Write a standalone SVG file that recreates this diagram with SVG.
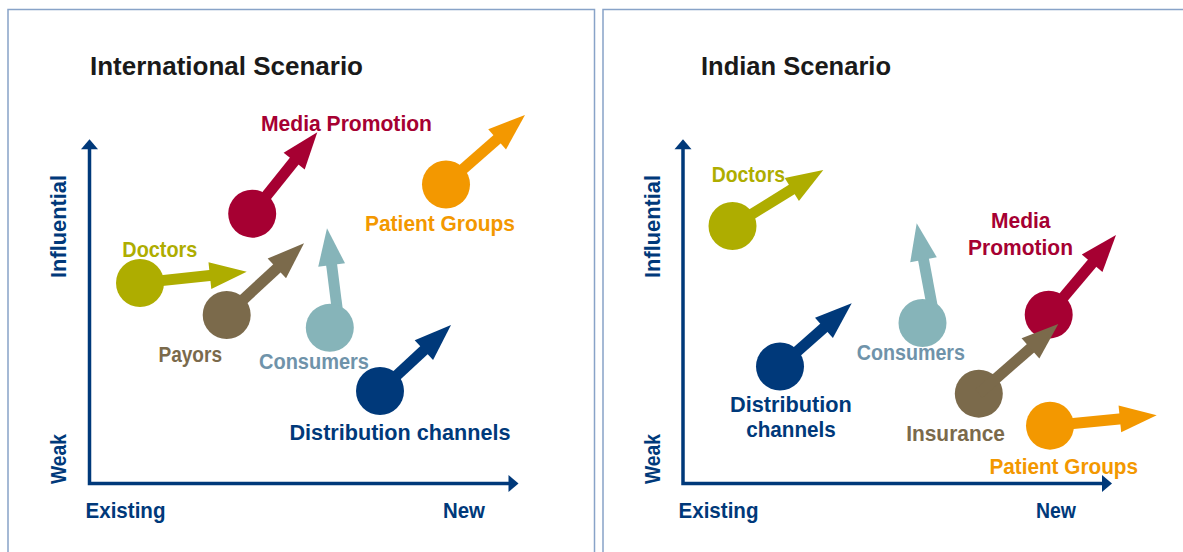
<svg xmlns="http://www.w3.org/2000/svg" xmlns:xlink="http://www.w3.org/1999/xlink" width="1183" height="552" viewBox="0 0 1183 552">
<style>
text{font-family:"Liberation Sans",Arial,sans-serif;font-weight:bold;font-size:22px}
.title{fill:#1a1a1a;font-size:25px}
.ax{fill:#00397a}
.navy{fill:#00397a}
.crim{fill:#a60032}
.orng{fill:#f39800}
.oliv{fill:#aead00}
.brwn{fill:#7b6a4b}
.teal{fill:#86b4b9}
.tlbl{fill:#6f93aa}
.frame{fill:none;stroke:#88a3c8;stroke-width:1.5}
.axl{stroke:#00397a;stroke-width:3.5;fill:none}
</style>
<defs>
<polygon id="head" points="0,0 -37,-13.5 -37,13.5"/>
<polygon id="axhead" points="0,0 -10,-8.5 -10,8.5"/>
</defs>
<rect x="0" y="0" width="1183" height="552" fill="#ffffff"/>
<g id="panel-left">
<rect class="frame" x="8" y="9.5" width="586.5" height="600"/>
<text class="title" x="90" y="75" textLength="273" lengthAdjust="spacingAndGlyphs">International Scenario</text>
<g id="axes-left">
<path class="axl" d="M89.5,148 V483.5 H510"/>
<use href="#axhead" class="ax" transform="translate(89.5,139.3) rotate(-90)"/>
<use href="#axhead" class="ax" transform="translate(518.5,483.5)"/>
<text class="ax" transform="translate(66,278) rotate(-90)" textLength="103" lengthAdjust="spacingAndGlyphs">Influential</text>
<text class="ax" transform="translate(66,484) rotate(-90)" textLength="50" lengthAdjust="spacingAndGlyphs">Weak</text>
<text class="ax" x="85.5" y="518" textLength="80" lengthAdjust="spacingAndGlyphs">Existing</text>
<text class="ax" x="443" y="518" textLength="42" lengthAdjust="spacingAndGlyphs">New</text>
</g>
</g>
<g id="panel-right">
<rect class="frame" x="603" y="9.5" width="600" height="600"/>
<text class="title" x="701" y="75" textLength="190" lengthAdjust="spacingAndGlyphs">Indian Scenario</text>
<g id="axes-right">
<path class="axl" d="M683,148 V483.5 H1103"/>
<use href="#axhead" class="ax" transform="translate(683,139.3) rotate(-90)"/>
<use href="#axhead" class="ax" transform="translate(1112,483.5)"/>
<text class="ax" transform="translate(660,278) rotate(-90)" textLength="103" lengthAdjust="spacingAndGlyphs">Influential</text>
<text class="ax" transform="translate(660,484) rotate(-90)" textLength="50" lengthAdjust="spacingAndGlyphs">Weak</text>
<text class="ax" x="678.5" y="518" textLength="80" lengthAdjust="spacingAndGlyphs">Existing</text>
<text class="ax" x="1036" y="518" textLength="40" lengthAdjust="spacingAndGlyphs">New</text>
</g>
</g>
<g id="connectors">
<g class="crim" transform="translate(317.3,132.3) rotate(-51.3)"><rect x="-104" y="-5.5" width="74" height="11"/><use href="#head"/></g>
<g class="orng" transform="translate(525,115) rotate(-41.1)"><rect x="-105" y="-5.5" width="75" height="11"/><use href="#head"/></g>
<g class="oliv" transform="translate(246.7,271.7) rotate(-6)"><rect x="-107" y="-5.5" width="77" height="11"/><use href="#head"/></g>
<g class="brwn" transform="translate(304,243.3) rotate(-42.8)"><rect x="-105" y="-5.5" width="75" height="11"/><use href="#head"/></g>
<g class="teal" transform="translate(327,228.3) rotate(-97.2)"><rect x="-87" y="-5.5" width="57" height="11"/><use href="#head"/></g>
<g class="navy" transform="translate(451,325) rotate(-42.9)"><rect x="-97" y="-5.5" width="67" height="11"/><use href="#head"/></g>
<g class="oliv" transform="translate(823.3,170) rotate(-31.7)"><rect x="-106.7" y="-5.5" width="76.7" height="11"/><use href="#head"/></g>
<g class="teal" transform="translate(916.7,223.3) rotate(-100.6)"><rect x="-88" y="-5.5" width="58" height="11"/><use href="#head"/></g>
<g class="crim" transform="translate(1116,235) rotate(-49.8)"><rect x="-104" y="-5.5" width="74" height="11"/><use href="#head"/></g>
<g class="navy" transform="translate(851.7,303.3) rotate(-41.4)"><rect x="-95.6" y="-5.5" width="65.6" height="11"/><use href="#head"/></g>
<g class="orng" transform="translate(1156.7,415.3) rotate(-5.57)"><rect x="-107" y="-5.5" width="77" height="11"/><use href="#head"/></g>
</g>
<g id="node-media-l"><circle class="crim" cx="252.2" cy="213.7" r="24"/><text class="crim" x="261" y="130.7" textLength="171" lengthAdjust="spacingAndGlyphs">Media Promotion</text></g>
<g id="node-patient-l"><circle class="orng" cx="446" cy="184.5" r="24"/><text class="orng" x="365" y="231" textLength="150" lengthAdjust="spacingAndGlyphs">Patient Groups</text></g>
<g id="node-doctors-l"><circle class="oliv" cx="140" cy="283" r="24"/><text class="oliv" x="122.3" y="256.7" textLength="75" lengthAdjust="spacingAndGlyphs">Doctors</text></g>
<g id="node-payors"><circle class="brwn" cx="226.7" cy="315" r="24"/><text class="brwn" x="158.5" y="362" textLength="63.5" lengthAdjust="spacingAndGlyphs">Payors</text></g>
<g id="node-consumers-l"><circle class="teal" cx="329.8" cy="327.8" r="24"/><text class="tlbl" x="259" y="368.5" textLength="110" lengthAdjust="spacingAndGlyphs">Consumers</text></g>
<g id="node-distribution-l"><circle class="navy" cx="380" cy="391" r="24"/><text class="navy" x="289.5" y="440" textLength="221" lengthAdjust="spacingAndGlyphs">Distribution channels</text></g>
<g id="node-doctors-r"><circle class="oliv" cx="732.5" cy="226" r="24"/><text class="oliv" x="711.7" y="181.7" textLength="73.3" lengthAdjust="spacingAndGlyphs">Doctors</text></g>
<g id="node-consumers-r"><circle class="teal" cx="922.5" cy="323" r="24"/><text class="tlbl" x="856.7" y="360" textLength="108.3" lengthAdjust="spacingAndGlyphs">Consumers</text></g>
<g id="node-media-r"><circle class="crim" cx="1048.7" cy="314.7" r="24"/><text class="crim" x="991" y="228" textLength="59.5" lengthAdjust="spacingAndGlyphs">Media</text><text class="crim" x="968" y="255" textLength="105" lengthAdjust="spacingAndGlyphs">Promotion</text></g>
<g id="node-distribution-r"><circle class="navy" cx="780" cy="366.5" r="24"/><text class="navy" x="730" y="411.7" textLength="121.7" lengthAdjust="spacingAndGlyphs">Distribution</text><text class="navy" x="746.2" y="436.7" textLength="89.6" lengthAdjust="spacingAndGlyphs">channels</text></g>
<g id="node-insurance"><circle class="brwn" cx="978.8" cy="393.7" r="24"/><g class="brwn" transform="translate(1058.3,324) rotate(-41.2)"><rect x="-105.7" y="-5.5" width="75.7" height="11"/><use href="#head"/></g><text class="brwn" x="906.2" y="440.7" textLength="98.7" lengthAdjust="spacingAndGlyphs">Insurance</text></g>
<g id="node-patient-r"><circle class="orng" cx="1050" cy="425.7" r="24"/><text class="orng" x="989.4" y="473.7" textLength="148.6" lengthAdjust="spacingAndGlyphs">Patient Groups</text></g>
</svg>
